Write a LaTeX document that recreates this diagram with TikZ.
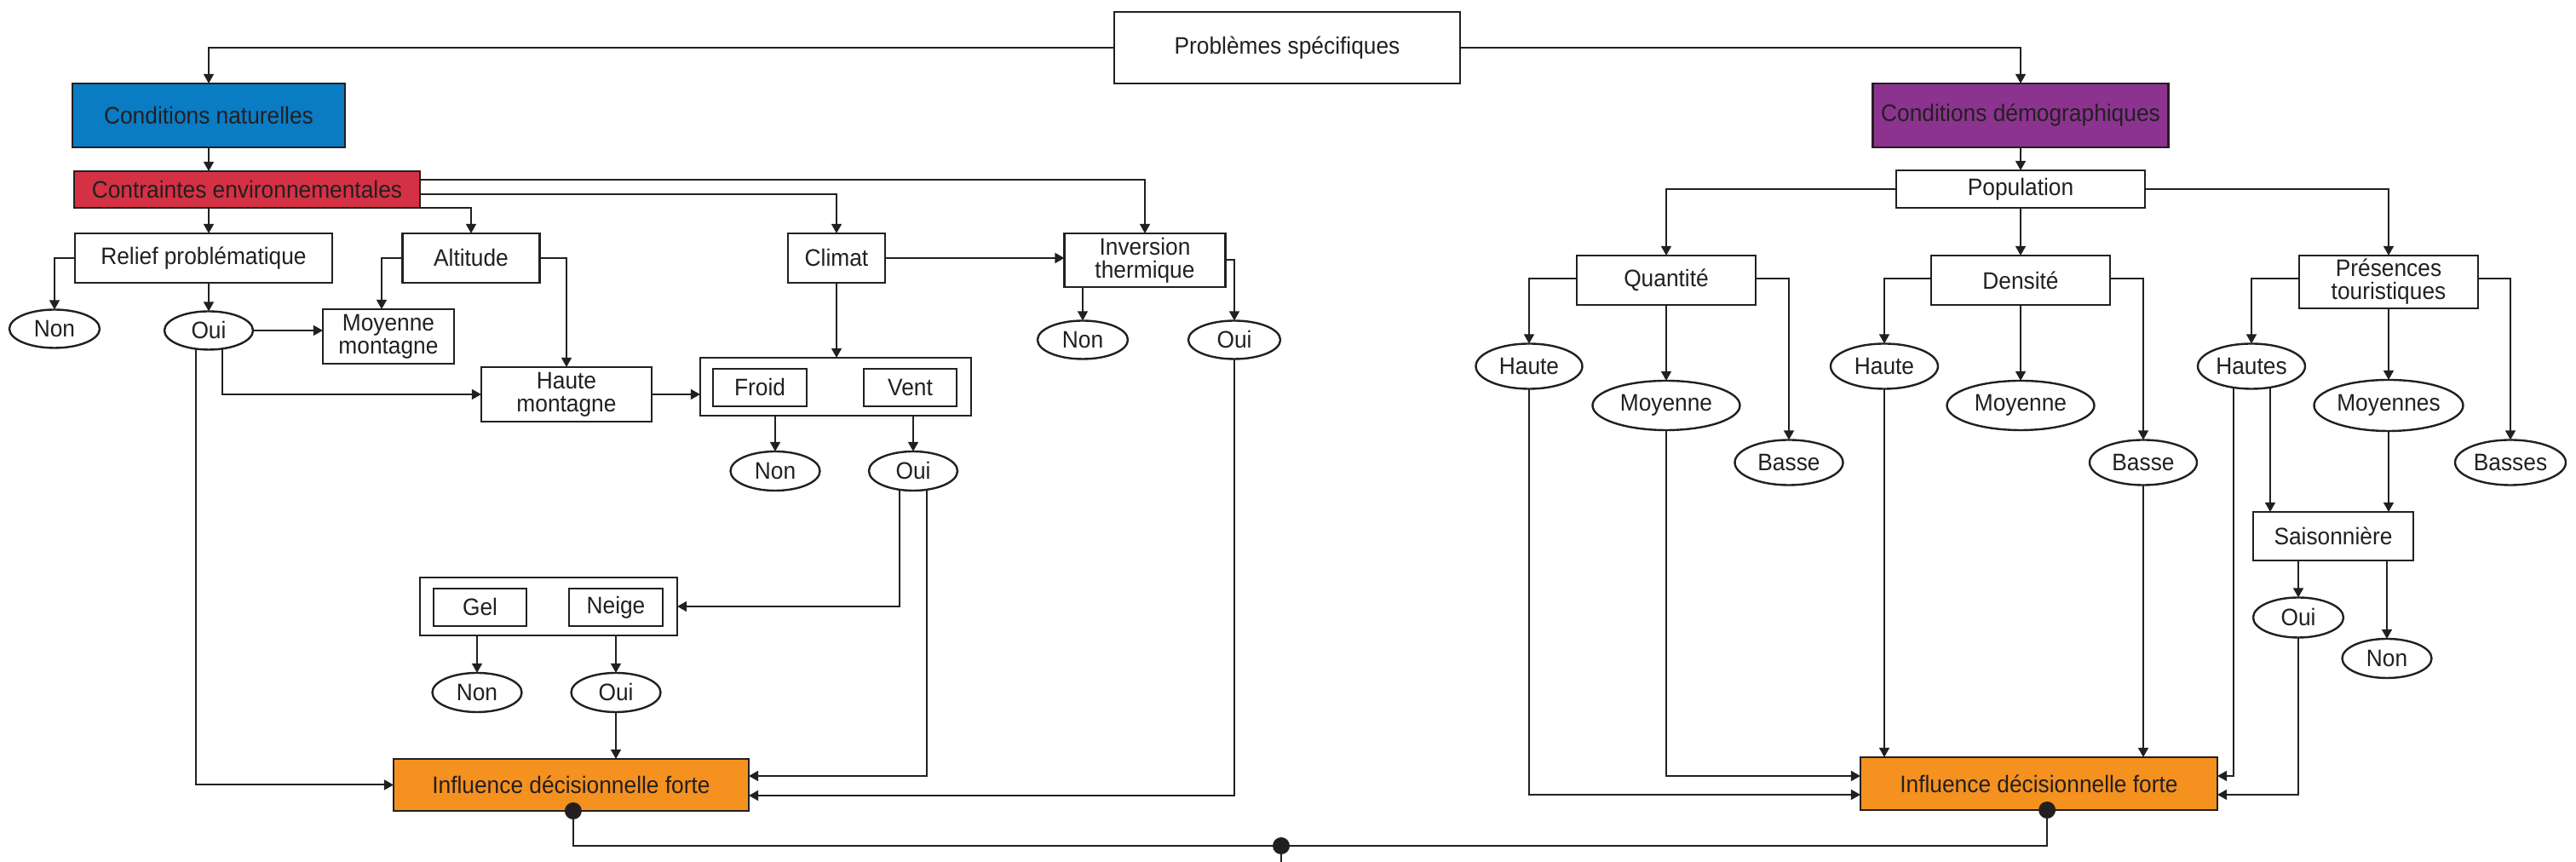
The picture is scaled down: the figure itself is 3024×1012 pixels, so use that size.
\documentclass[tikz,border=0pt]{standalone}
\usepackage{fontspec}
\setmainfont{Liberation Sans}[FakeStretch=0.94]
\usetikzlibrary{arrows.meta,shapes.geometric}
\definecolor{cblue}{HTML}{0A7CC3}
\definecolor{cred}{HTML}{D43145}
\definecolor{cpurple}{HTML}{8C3390}
\definecolor{corange}{HTML}{F5911F}
\definecolor{ink}{HTML}{231F20}
\begin{document}
\begin{tikzpicture}[x=0.25pt,y=-0.25pt, color=ink,
  every node/.style={font=\fontsize{7}{6.7}\selectfont, inner sep=0pt, outer sep=0pt, text=ink},
  box/.style={draw=ink, line width=0.6pt, rectangle, align=center},
  oval/.style={draw=ink, line width=0.6pt, ellipse, align=center},
  sz/.style 2 args={minimum width=#1*0.25pt, minimum height=#2*0.25pt},
  link/.style={draw=ink, line width=0.5pt},
  arr/.style={link, -{Triangle[length=2.8pt,width=3pt]}},
  dot/.style={fill=ink, circle, minimum size=5pt, inner sep=0pt}
]
\useasboundingbox (0,0) rectangle (3024,1012);
% ---------- top ----------
\node[box, sz={406}{84}] (ps) at (1511,56) {Problèmes spécifiques};
\node[box, sz={320}{75}, fill=cblue] (cn) at (245,135.5) {Conditions naturelles};
\node[box, sz={347}{75}, fill=cpurple] (cd) at (2372,135.5) {Conditions démographiques};
\node[box, sz={406}{43}, fill=cred] (ce) at (290,222.5) {Contraintes environnementales};
% ---------- left ----------
\node[box, sz={302}{58}] (rp) at (239,303) {Relief problématique};
\node[box, sz={161}{58}] (al) at (553,303) {Altitude};
\node[box, sz={114}{58}] (cl) at (982,303) {Climat};
\node[box, sz={189}{63}] (it) at (1344,305.5) {Inversion\\thermique};
\node[oval, sz={106}{45}] (non1) at (64,386) {Non};
\node[oval, sz={104}{45}] (oui1) at (245,388) {Oui};
\node[box, sz={154}{64}] (mm) at (456,395) {Moyenne\\montagne};
\node[box, sz={200}{64}] (hm) at (665,463) {Haute\\montagne};
\node[box, sz={318}{68}] (fv) at (981,454) {};
\node[box, sz={110}{44}] (froid) at (892,455) {Froid};
\node[box, sz={109}{44}] (vent) at (1068.5,455) {Vent};
\node[oval, sz={106}{45}] (non2) at (1271,399) {Non};
\node[oval, sz={108}{45}] (oui2) at (1449,399) {Oui};
\node[oval, sz={105}{46}] (non3) at (910,553) {Non};
\node[oval, sz={104}{46}] (oui3) at (1072,553) {Oui};
\node[box, sz={302}{68}] (gn) at (644,712) {};
\node[box, sz={109}{44}] (gel) at (563.5,713) {Gel};
\node[box, sz={110}{44}] (neige) at (723,713) {Neige};
\node[oval, sz={105}{46}] (non4) at (560,813) {Non};
\node[oval, sz={105}{46}] (oui4) at (723,813) {Oui};
\node[box, sz={417}{61}, fill=corange] (inf1) at (670.5,921.5) {Influence décisionnelle forte};
% ---------- right ----------
\node[box, sz={292}{44}] (pop) at (2372,222) {Population};
\node[box, sz={210}{58}] (qt) at (1956,329) {Quantité};
\node[box, sz={210}{58}] (de) at (2372,329) {Densité};
\node[box, sz={210}{62}] (pt) at (2804,331) {Présences\\touristiques};
\node[oval, sz={125}{53}] (ha1) at (1795,430) {Haute};
\node[oval, sz={173}{58}] (mo1) at (1956,476) {Moyenne};
\node[oval, sz={127}{53}] (ba1) at (2100,543) {Basse};
\node[oval, sz={126}{53}] (ha2) at (2212,430) {Haute};
\node[oval, sz={173}{58}] (mo2) at (2372,476) {Moyenne};
\node[oval, sz={126}{53}] (ba2) at (2516,543) {Basse};
\node[oval, sz={126}{53}] (has) at (2643,430) {Hautes};
\node[oval, sz={175}{60}] (mos) at (2804,476) {Moyennes};
\node[oval, sz={130}{53}] (bas) at (2947,543) {Basses};
\node[box, sz={188}{57}] (sai) at (2739,629.5) {Saisonnière};
\node[oval, sz={106}{47}] (oui5) at (2698,725) {Oui};
\node[oval, sz={105}{46}] (non5) at (2802,773) {Non};
\node[box, sz={419}{62}, fill=corange] (inf2) at (2393.5,920) {Influence décisionnelle forte};
% ---------- connectors: top ----------
\draw[arr] (ps.west) -| (cn.north);
\draw[arr] (ps.east) -| (cd.north);
\draw[arr] (cn.south) -- (cn.south |- ce.north);
\draw[arr] (ce.south -| oui1) -- (rp.north -| oui1);
\draw[arr] (ce.south east) -| (al.north);
\draw[arr] ([yshift=-1.375pt]ce.east) -| (cl.north);
\draw[arr] ([yshift=2.875pt]ce.east) -| (it.north);
% ---------- connectors: left ----------
\draw[arr] (rp.west) -| (non1.north);
\draw[arr] (rp.south -| oui1.north) -- (oui1.north);
\draw[arr] (oui1.east) -- (oui1.east -| mm.west);
\draw[arr] (al.west) -| ([xshift=-2pt]mm.north);
\draw[arr] (al.east) -| (hm.north);
\draw[arr] ([xshift=4pt]oui1.south) |- (hm.west);
\draw[arr] ([xshift=-3.75pt]oui1.south) |- (inf1.west);
\draw[arr] (hm.east) -- (hm.east -| fv.west);
\draw[arr] (cl.south) -- (cl.south |- fv.north);
\draw[arr] (cl.east) -- (cl.east -| it.west);
\draw[arr] (it.south -| non2.north) -- (non2.north);
\draw[arr] (it.east) -| (oui2.north);
\draw[arr] (oui2.south) |- ([yshift=-3.125pt]inf1.east);
\draw[arr] (fv.south -| non3.north) -- (non3.north);
\draw[arr] (fv.south -| oui3.north) -- (oui3.north);
\draw[arr] ([xshift=-4pt]oui3.south) |- (gn.east);
\draw[arr] ([xshift=4pt]oui3.south) |- ([yshift=2.625pt]inf1.east);
\draw[arr] (gn.south -| non4.north) -- (non4.north);
\draw[arr] (gn.south -| oui4.north) -- (oui4.north);
\draw[arr] (oui4.south) -- (oui4.south |- inf1.north);
% ---------- connectors: right ----------
\draw[arr] (cd.south) -- (pop.north);
\draw[arr] (pop.west) -| (qt.north);
\draw[arr] (pop.south) -- (de.north);
\draw[arr] (pop.east) -| (pt.north);
\draw[arr] ([yshift=0.5pt]qt.west) -| (ha1.north);
\draw[arr] (qt.south) -- (mo1.north);
\draw[arr] ([yshift=0.5pt]qt.east) -| (ba1.north);
\draw[arr] ([yshift=0.5pt]de.west) -| (ha2.north);
\draw[arr] (de.south) -- (mo2.north);
\draw[arr] ([yshift=0.5pt]de.east) -| (ba2.north);
\draw[arr] ([yshift=1pt]pt.west) -| (has.north);
\draw[arr] (pt.south) -- (mos.north);
\draw[arr] ([yshift=1pt]pt.east) -| (bas.north);
\draw[arr] (ha1.south) |- ([yshift=-3.25pt]inf2.west);
\draw[arr] (mo1.south) |- ([yshift=2.25pt]inf2.west);
\draw[arr] (ha2.south) -- (ha2.south |- inf2.north);
\draw[arr] (ba2.south) -- (ba2.south |- inf2.north);
\draw[arr] ([xshift=-5.25pt]has.south) |- ([yshift=2.25pt]inf2.east);
\draw[arr] ([xshift=5.5pt]has.south) -- ([xshift=5.5pt]has.south |- sai.north);
\draw[arr] (mos.south) -- (mos.south |- sai.north);
\draw[arr] (sai.south -| oui5.north) -- (oui5.north);
\draw[arr] (sai.south -| non5.north) -- (non5.north);
\draw[arr] (oui5.south) |- ([yshift=-3.25pt]inf2.east);
% ---------- bottom ----------
\coordinate (hub) at (1504,993);
\coordinate (outb) at (1504,1012);
\node[dot] (d1) at ([xshift=0.6pt]inf1.south) {};
\node[dot] (d2) at ([xshift=2.4pt]inf2.south) {};
\node[dot] (d3) at (hub) {};
\draw[link] (d1.center) |- (d3.center);
\draw[link] (d2.center) |- (d3.center);
\draw[link] (d3.center) -- (outb);
\end{tikzpicture}
\end{document}
